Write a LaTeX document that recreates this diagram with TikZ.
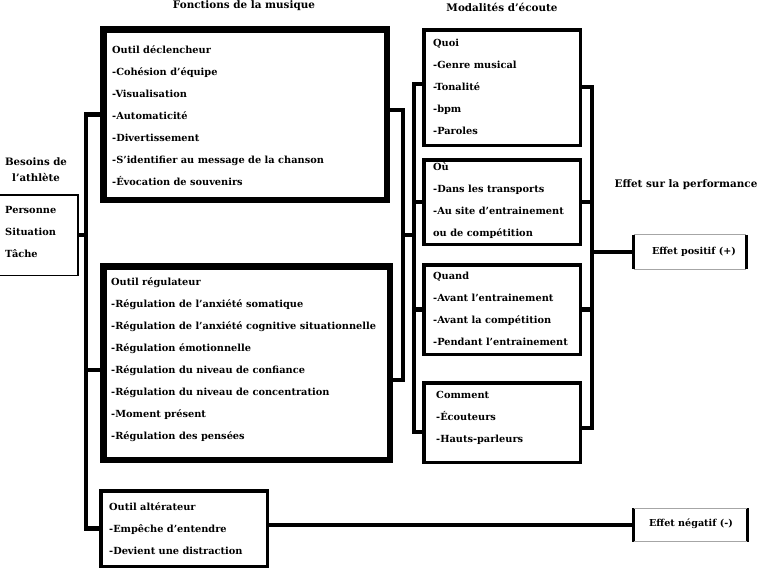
\documentclass[tikz,border=0pt]{standalone}
\usepackage{fontspec}
\setmainfont{DejaVu Serif}
\begin{document}
\begin{tikzpicture}[x=1pt,y=-1pt,
  txt/.style={font=\fontsize{9.8}{22}\selectfont\bfseries, align=left, inner sep=0pt, anchor=west},
  ttl/.style={font=\fontsize{10.4}{16}\selectfont\bfseries, align=center, inner sep=0pt},
  bigbox/.style={draw, line width=6.5pt, inner sep=0pt},
  midbox/.style={draw, line width=3.5pt, inner sep=0pt},
  thinbox/.style={draw, line width=1.5pt, inner sep=0pt},
  efftxt/.style={inner sep=0pt, font=\fontsize{9.6}{10}\selectfont\bfseries},
  conn/.style={line width=4.5pt}]
\useasboundingbox (0,0) rectangle (762,581);

% titles
\node[ttl] (t1) at (244,6) {Fonctions de la musique};
\node[ttl] (t2) at (502,7) {Modalités d’écoute};
\node[ttl, font=\fontsize{10.2}{16}\selectfont\bfseries] (t3) at (36,170) {Besoins de\\l’athlète};
\node[ttl] (t4) at (686,185) {Effet sur la performance};

% boxes
\node[thinbox, minimum width=80.25pt, minimum height=80.5pt] (bes) at (38.1,235) {};
\node[txt] (best) at (5,232) {Personne\\Situation\\Tâche};

\node[bigbox, minimum width=283.5pt, minimum height=170.5pt] (dec) at (245,114.5) {};
\node[txt] (dect) at (112,116) {Outil déclencheur\\-Cohésion d’équipe\\-Visualisation\\-Automaticité\\-Divertissement\\-S’identifier au message de la chanson\\-Évocation de souvenirs};

\node[bigbox, minimum width=286.5pt, minimum height=193.5pt] (reg) at (246.5,363) {};
\node[txt] (regt) at (111,360) {Outil régulateur\\-Régulation de l’anxiété somatique\\-Régulation de l’anxiété cognitive situationnelle\\-Régulation émotionnelle\\-Régulation du niveau de confiance\\-Régulation du niveau de concentration\\-Moment présent\\-Régulation des pensées};

\node[midbox, minimum width=166.5pt, minimum height=75.5pt] (alt) at (184,528.5) {};
\node[txt] (altt) at (109,529) {Outil altérateur\\-Empêche d’entendre\\-Devient une distraction};

\node[midbox, minimum width=156.5pt, minimum height=115.5pt] (quoi) at (502,87.5) {};
\node[txt] (quoit) at (433,87) {Quoi\\-Genre musical\\-Tonalité\\-bpm\\-Paroles};

\node[midbox, minimum width=156.5pt, minimum height=84.5pt] (ou) at (502,202) {};
\node[txt] (out) at (433,200.5) {Où\\-Dans les transports\\-Au site d’entrainement\\ou de compétition};

\node[midbox, minimum width=156.5pt, minimum height=89.5pt] (quand) at (502,309.5) {};
\node[txt] (quandt) at (433,309) {Quand\\-Avant l’entrainement\\-Avant la compétition\\-Pendant l’entrainement};

\node[midbox, minimum width=156.5pt, minimum height=79.5pt] (com) at (502,422.5) {};
\node[txt] (comt) at (436,418) {Comment\\-Écouteurs\\-Hauts-parleurs};

\node[inner sep=0pt, minimum width=112.5pt, minimum height=34pt] (pos) at (690,252) {};
\node[efftxt] (post) at (694,252) {Effet positif (+)};
\node[inner sep=0pt, minimum width=113.5pt, minimum height=33pt] (neg) at (690.5,525) {};
\node[efftxt] (negt) at (691,524) {Effet négatif (-)};
\foreach \b in {pos,neg}{
  \draw[line width=3.5pt] (\b.north west) -- (\b.south west);
  \draw[line width=3.5pt] (\b.north east) -- (\b.south east);
  \draw[gray!70, line width=0.8pt] (\b.north west) -- (\b.north east);
  \draw[gray!70, line width=0.8pt] (\b.south west) -- (\b.south east);
}

% connector coordinates
\coordinate (lbx) at (86,0);
\coordinate (b1) at (403,110);
\coordinate (b2) at (403,380);
\coordinate (bm) at (403,235);
\coordinate (ltop) at (414,84);
\coordinate (lbot) at (414,432);
\coordinate (rtop) at (592,87);
\coordinate (rbot) at (592,428);

% left bus
\draw[conn] (dec.west) -| (lbx |- alt.west) -- (alt.west);
\draw[conn] (bes.east) -- (bes.east -| lbx);
\draw[conn] ([yshift=-7pt]reg.west) -- ([yshift=-7pt]reg.west -| lbx);

% bracket between functions and modalities
\draw[conn] (dec.east |- b1) -- (b1) -- (b2) -- (reg.east |- b2);
\draw[conn] (bm) -- (bm -| ltop);

% left modalities bus
\draw[conn] (quoi.west |- ltop) -- (ltop) -- (lbot) -- (com.west |- lbot);
\draw[conn] (ou.west) -- (ou.west -| ltop);
\draw[conn] (quand.west) -- (quand.west -| ltop);

% right modalities bus
\draw[conn] (quoi.east |- rtop) -- (rtop) -- (rbot) -- (com.east |- rbot);
\draw[conn] (ou.east) -- (ou.east -| rtop);
\draw[conn] (quand.east) -- (quand.east -| rtop);
\draw[conn] (pos.west) -- (pos.west -| rtop);

% negative effect
\draw[conn] (alt.east |- neg.west) -- (neg.west);
\end{tikzpicture}
\end{document}
